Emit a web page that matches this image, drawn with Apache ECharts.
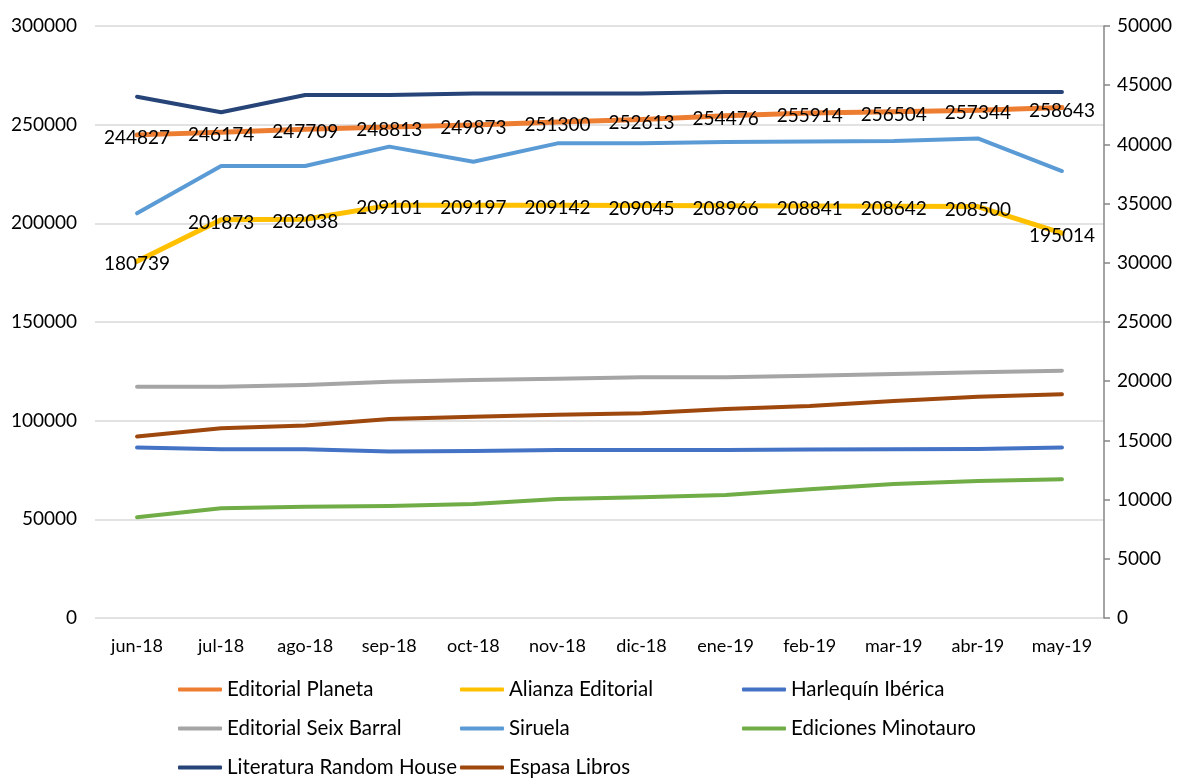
<!DOCTYPE html>
<html>
<head>
<meta charset="utf-8">
<script src="https://cdn.jsdelivr.net/npm/echarts@6/dist/echarts.min.js"></script>
<style>html,body{margin:0;padding:0;background:#fff;}#c{width:1181px;height:778px;}</style>
</head>
<body>
<div id="c"></div>
<script>
const categories = ['jun-18','jul-18','ago-18','sep-18','oct-18','nov-18','dic-18','ene-19','feb-19','mar-19','abr-19','may-19'];
const leftTicks = [0, 50000, 100000, 150000, 200000, 250000, 300000];
const rightTicks = [0, 5000, 10000, 15000, 20000, 25000, 30000, 35000, 40000, 45000, 50000];

// primary axis (labelled)
const planeta = [244827, 246174, 247709, 248813, 249873, 251300, 252613, 254476, 255914, 256504, 257344, 258643];
const alianza = [180739, 201873, 202038, 209101, 209197, 209142, 209045, 208966, 208841, 208642, 208500, 195014];
// secondary axis
const harlequin = [14390, 14250, 14250, 14060, 14100, 14190, 14190, 14190, 14240, 14250, 14270, 14390];
const seixBarral = [19540, 19540, 19680, 19960, 20100, 20210, 20330, 20330, 20470, 20610, 20750, 20890];
const siruela = [34180, 38180, 38180, 39810, 38540, 40090, 40090, 40200, 40250, 40290, 40500, 37750];
const minotauro = [8500, 9260, 9400, 9460, 9630, 10050, 10190, 10390, 10870, 11320, 11570, 11720];
const randomHouse = [44030, 42710, 44170, 44170, 44300, 44300, 44300, 44430, 44430, 44430, 44430, 44430];
const espasa = [15320, 16020, 16250, 16810, 17000, 17170, 17290, 17650, 17910, 18330, 18690, 18890];

const FONT = 'Lato, "Open Sans", sans-serif';
function mk(name, data, color, axis, width, labels) {
  return {
    name: name, type: 'line', data: data, yAxisIndex: axis,
    symbol: 'circle', symbolSize: 1, showSymbol: true,
    itemStyle: { color: color },
    lineStyle: { color: color, width: width, cap: 'round', join: 'round' },
    label: labels ? { show: true, position: 'inside', offset: [0, 3], color: '#000', fontFamily: FONT, fontSize: 19 } : { show: false },
    emphasis: { disabled: true },
    animation: false
  };
}

const chart = echarts.init(document.getElementById('c'), null, { renderer: 'canvas' });
chart.setOption({
  animation: false,
  backgroundColor: '#fff',
  grid: { left: 95, right: 77, top: 26, bottom: 160, containLabel: false },
  xAxis: {
    type: 'category', data: categories, boundaryGap: true,
    axisLine: { show: false }, axisTick: { show: false },
    axisLabel: { color: '#000', fontFamily: FONT, fontSize: 18, margin: 19 }
  },
  yAxis: [
    {
      type: 'value', min: leftTicks[0], max: leftTicks[leftTicks.length - 1], interval: leftTicks[1] - leftTicks[0],
      axisLine: { show: false }, axisTick: { show: false },
      axisLabel: { color: '#000', fontFamily: FONT, fontSize: 19, margin: 18, formatter: v => String(v) },
      splitLine: { show: true, lineStyle: { color: '#d9d9d9', width: 1.5 } }
    },
    {
      type: 'value', position: 'right', min: rightTicks[0], max: rightTicks[rightTicks.length - 1], interval: rightTicks[1] - rightTicks[0],
      axisLine: { show: true, lineStyle: { color: '#868686', width: 1.5 } },
      axisTick: { show: true, inside: false, length: 6, lineStyle: { color: '#868686', width: 1.5 } },
      axisLabel: { color: '#000', fontFamily: FONT, fontSize: 19, margin: 13, formatter: v => String(v) },
      splitLine: { show: false }
    }
  ],
  legend: {
    left: 178, top: 670, width: 880, padding: 0,
    orient: 'horizontal',
    icon: 'roundRect', itemWidth: 44, itemHeight: 4, itemGap: 0,
    textStyle: { color: '#000', fontFamily: FONT, fontSize: 20.5, width: 233, lineHeight: 39, padding: [0,0,0,0] },
    data: ['Editorial Planeta','Alianza Editorial','Harlequín Ibérica','Editorial Seix Barral','Siruela','Ediciones Minotauro','Literatura Random House','Espasa Libros']
  },
  series: [
    mk('Editorial Planeta', planeta, '#ED7D31', 0, 5, true),
    mk('Alianza Editorial', alianza, '#FFC000', 0, 5, true),
    mk('Harlequín Ibérica', harlequin, '#4472C4', 1, 4, false),
    mk('Editorial Seix Barral', seixBarral, '#A5A5A5', 1, 4, false),
    mk('Siruela', siruela, '#5B9BD5', 1, 4, false),
    mk('Ediciones Minotauro', minotauro, '#70AD47', 1, 4, false),
    mk('Literatura Random House', randomHouse, '#264478', 1, 4, false),
    mk('Espasa Libros', espasa, '#9E480E', 1, 4, false)
  ]
});
</script>
</body>
</html>
